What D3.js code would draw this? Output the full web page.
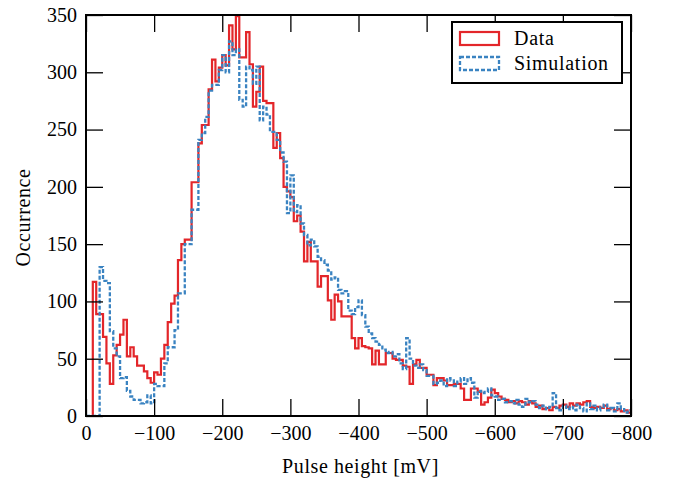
<!DOCTYPE html>
<meta charset="utf-8">
<script src="https://d3js.org/d3.v7.min.js"></script>
<style>
  body { margin: 0; background: #fff; }
  text { font-family: "Liberation Serif", serif; fill: #000; }
</style>
<div id="chart"></div>
<script>
  // histogram bins, 5 mV wide, starting at 0 mV and going negative
  var binWidth = 5;

  var dataCounts = [
    0, 0, 117, 89, 89, 69, 46, 28, 53, 62,
    71, 84, 52, 60, 52, 44, 44, 39, 33, 29,
    38, 36, 50, 62, 82, 98, 105, 136, 150, 154,
    154, 204, 204, 238, 254, 254, 285, 311, 292, 304,
    315, 306, 341, 320, 349, 313, 313, 335, 307, 270,
    283, 305, 275, 273, 273, 234, 247, 225, 200, 196,
    191, 170, 175, 161, 135, 152, 135, 135, 113, 122,
    122, 101, 84, 106, 100, 87, 87, 87, 68, 59,
    68, 61, 60, 59, 45, 57, 45, 45, 55, 55,
    50, 49, 49, 44, 43, 28, 45, 49, 42, 42,
    36, 36, 27, 33, 33, 31, 27, 27, 28, 28,
    24, 14, 14, 24, 24, 21, 10, 12, 16, 23,
    20, 17, 15, 14, 12, 13, 11, 13, 12, 10,
    13, 11, 8, 9, 6, 7, 5, 8, 7, 9,
    10, 8, 11, 9, 11, 10, 12, 13, 8, 7,
    8, 7, 9, 6, 7, 5, 6, 4, 5, 3
  ];

  var simCounts = [
    0, 0, 0, 0, 130, 118, 116, 74, 59, 52,
    33, 34, 22, 17, 14, 14, 11, 12, 18, 11,
    28, 26, 26, 46, 60, 60, 75, 107, 107, 150,
    150, 180, 180, 241, 247, 261, 284, 289, 289, 302,
    315, 300, 327, 315, 320, 276, 270, 305, 302, 290,
    305, 258, 270, 263, 248, 248, 241, 230, 222, 177,
    210, 178, 184, 168, 158, 149, 154, 148, 139, 136,
    132, 127, 119, 121, 110, 107, 109, 92, 89, 95,
    101, 88, 78, 72, 68, 65, 62, 58, 55, 56,
    52, 54, 46, 41, 68, 50, 44, 42, 45, 40,
    35, 35, 28, 29, 31, 26, 33, 31, 26, 30,
    33, 28, 33, 29, 16, 22, 20, 21, 24, 18,
    17, 14, 15, 12, 13, 11, 14, 10, 8, 15,
    12, 13, 10, 7, 9, 6, 8, 20, 7, 5,
    9, 6, 8, 5, 10, 7, 4, 11, 6, 9,
    5, 8, 10, 5, 7, 4, 11, 6, 3, 5
  ];

  var xTicks = [0, -100, -200, -300, -400, -500, -600, -700, -800];
  var yTicks = [0, 50, 100, 150, 200, 250, 300, 350];
  var seriesNames = ["Data", "Simulation"];
  var seriesColors = ["#e3262a", "#3a83c1"];

  var margin = {top: 15, right: 52, bottom: 63, left: 86},
      width = 683 - margin.left - margin.right,
      height = 479 - margin.top - margin.bottom;

  var svg = d3.select("#chart")
      .append("svg")
      .attr("width", 683)
      .attr("height", 479)
      .append("g")
      .attr("transform", "translate(" + margin.left + "," + margin.top + ")");

  var x = d3.scaleLinear().domain([0, -800]).range([0, width]);
  var y = d3.scaleLinear().domain([0, 350]).range([height, 0]);

  var fmt = function(d) { return d === 0 ? "0" : "\u2212" + Math.abs(d); };

  svg.append("clipPath").attr("id", "plotclip")
    .append("rect").attr("width", width).attr("height", height);

  function stepPoints(counts) {
      var pts = counts.map(function(c, i) { return [-i * binWidth, c]; });
      pts.push([-counts.length * binWidth, counts[counts.length - 1]]);
      return pts;
  }

  var line = d3.line()
      .curve(d3.curveStepAfter)
      .x(function(d) { return x(d[0]); })
      .y(function(d) { return y(d[1]); });

  var plot = svg.append("g").attr("clip-path", "url(#plotclip)");

  plot.append("path")
      .datum(stepPoints(dataCounts))
      .attr("fill", "none")
      .attr("stroke", seriesColors[0])
      .attr("stroke-width", 2.2)
      .attr("d", line);

  plot.append("path")
      .datum(stepPoints(simCounts))
      .attr("fill", "none")
      .attr("stroke", seriesColors[1])
      .attr("stroke-width", 2.3)
      .attr("stroke-dasharray", "4,2")
      .attr("d", line);

  // axes, ticks pointing inward on all four sides
  var tk = 17;
  var xb = svg.append("g").attr("transform", "translate(0," + height + ")")
      .call(d3.axisBottom(x).tickValues(xTicks).tickSize(-tk).tickSizeOuter(0).tickPadding(10).tickFormat(fmt));
  var xt = svg.append("g")
      .call(d3.axisTop(x).tickValues(xTicks).tickSize(-tk).tickSizeOuter(0).tickFormat(""));
  var yl = svg.append("g")
      .call(d3.axisLeft(y).tickValues(yTicks).tickSize(-tk).tickSizeOuter(0).tickPadding(9));
  var yr = svg.append("g").attr("transform", "translate(" + width + ",0)")
      .call(d3.axisRight(y).tickValues(yTicks).tickSize(-tk).tickSizeOuter(0).tickFormat(""));

  [xb, xt, yl, yr].forEach(function(a) {
      a.select(".domain").remove();
      a.selectAll(".tick line").attr("stroke", "#000").attr("stroke-width", 1.3);
      a.selectAll("text").attr("font-size", 20).attr("font-family", "Liberation Serif").attr("fill", "#000");
  });

  // frame
  svg.append("rect")
      .attr("width", width).attr("height", height)
      .attr("fill", "none").attr("stroke", "#000").attr("stroke-width", 2);

  // axis titles
  svg.append("text")
      .attr("x", width / 2 + 2).attr("y", height + 57)
      .attr("text-anchor", "middle").attr("font-size", 20)
      .attr("letter-spacing", 0.6)
      .text("Pulse height [mV]");
  svg.append("text")
      .attr("transform", "translate(" + (-56) + "," + (height / 2 + 2) + ") rotate(-90)")
      .attr("text-anchor", "middle").attr("font-size", 20)
      .attr("letter-spacing", 0.6)
      .text("Occurrence");

  // legend
  var lg = svg.append("g").attr("transform", "translate(" + (452 - margin.left) + "," + (22 - margin.top) + ")");
  lg.append("rect").attr("width", 170).attr("height", 61)
      .attr("fill", "#fff").attr("stroke", "#000").attr("stroke-width", 2);
  seriesNames.forEach(function(name, i) {
      var row = lg.append("g").attr("transform", "translate(0," + (10 + i * 25) + ")");
      row.append("rect").attr("x", 8).attr("y", 0).attr("width", 39).attr("height", 13)
          .attr("fill", "none").attr("stroke", seriesColors[i])
          .attr("stroke-width", i === 0 ? 2.2 : 2.3)
          .attr("stroke-dasharray", i === 0 ? null : "4,2");
      row.append("text").attr("x", 62).attr("y", 13).attr("font-size", 20)
          .attr("letter-spacing", 0.7).text(name);
  });
</script>
